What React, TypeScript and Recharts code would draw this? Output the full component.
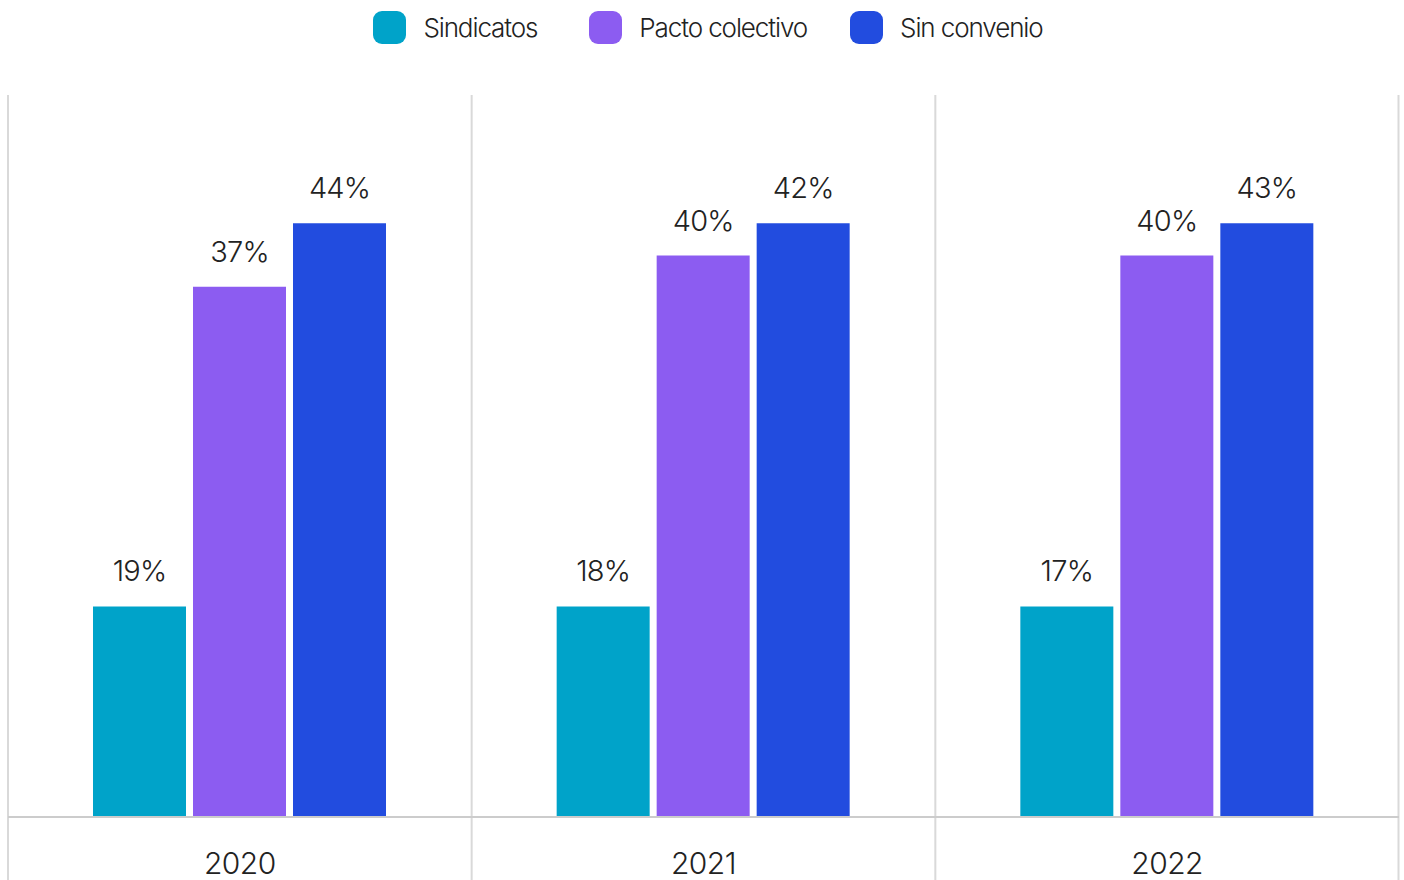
import { Bar, BarChart, CartesianGrid, LabelList, XAxis, YAxis } from "recharts";

const YEARS = ["2020", "2021", "2022"];

// bar heights as drawn (the picture does not scale them by their labels)
const SINDICATOS = [15.6, 15.6, 15.6];
const PACTO = [39.3, 41.6, 41.6];
const SIN_CONVENIO = [44, 44, 44];

// printed labels
const SINDICATOS_LABELS = ["19%", "18%", "17%"];
const PACTO_LABELS = ["37%", "40%", "40%"];
const SIN_CONVENIO_LABELS = ["44%", "42%", "43%"];

const SERIES = [
  { key: "sindicatos", label: "sindicatosLabel", name: "Sindicatos", color: "#00a3c9", gap: 0 },
  { key: "pacto", label: "pactoLabel", name: "Pacto colectivo", color: "#8c5cf1", gap: 52 },
  { key: "sinConvenio", label: "sinConvenioLabel", name: "Sin convenio", color: "#224cdf", gap: 43 },
];

const FONT = "Inter, Roboto, 'Helvetica Neue', Arial, sans-serif";
const TEXT = "#222222";
const GRID = "#d9d9d9";
const W = 1404;
const H = 880;

const data = YEARS.map((year, i) => ({
  year,
  sindicatos: SINDICATOS[i],
  pacto: PACTO[i],
  sinConvenio: SIN_CONVENIO[i],
  sindicatosLabel: SINDICATOS_LABELS[i],
  pactoLabel: PACTO_LABELS[i],
  sinConvenioLabel: SIN_CONVENIO_LABELS[i],
}));

// grid lines sit on the category boundaries, not on the tick centres
const boundaryLines = ({ offset }: any) =>
  Array.from({ length: YEARS.length + 1 }, (_, k) => {
    const x = offset.left + (k * offset.width) / YEARS.length;
    return k === YEARS.length ? x - 0.5 : x;
  });

function Legend() {
  return (
    <div
      style={{
        position: "absolute",
        top: 11,
        left: 12,
        right: 0,
        display: "flex",
        justifyContent: "center",
        alignItems: "center",
        fontFamily: FONT,
        fontWeight: 300,
        fontSize: 26,
        color: TEXT,
      }}
    >
      {SERIES.map((s) => (
        <div key={s.key} style={{ display: "flex", alignItems: "center", marginLeft: s.gap }}>
          <div style={{ width: 33, height: 33, borderRadius: 9, background: s.color, marginRight: 17 }} />
          <span style={{ letterSpacing: -1.1 }}>{s.name}</span>
        </div>
      ))}
    </div>
  );
}

export default function App() {
  return (
    <div style={{ position: "absolute", left: 0, top: 0, width: W, height: H, overflow: "hidden", background: "#fff" }}>
      <BarChart
        width={W}
        height={H}
        data={data}
        margin={{ top: 95, right: 5, bottom: 0, left: 8 }}
        barGap={7}
        barSize={93}
      >
        <CartesianGrid
          horizontal={false}
          stroke={GRID}
          strokeWidth={2}
          height={790}
          verticalCoordinatesGenerator={boundaryLines}
        />
        <XAxis
          dataKey="year"
          axisLine={{ stroke: "#cccccc", strokeWidth: 2 }}
          tickLine={false}
          tickSize={0}
          tickMargin={36}
          height={63}
          tick={{ fill: TEXT, fontSize: 30, fontFamily: FONT, fontWeight: 300, letterSpacing: -0.5 }}
        />
        <YAxis hide domain={[0, 53.5]} />
        {SERIES.map((s) => (
          <Bar key={s.key} dataKey={s.key} name={s.name} fill={s.color} isAnimationActive={false}>
            <LabelList
              dataKey={s.label}
              position="top"
              offset={25}
              fill={TEXT}
              fontSize={29}
              fontFamily={FONT}
              fontWeight={300}
              letterSpacing={-0.8}
            />
          </Bar>
        ))}
      </BarChart>
      <Legend />
    </div>
  );
}
